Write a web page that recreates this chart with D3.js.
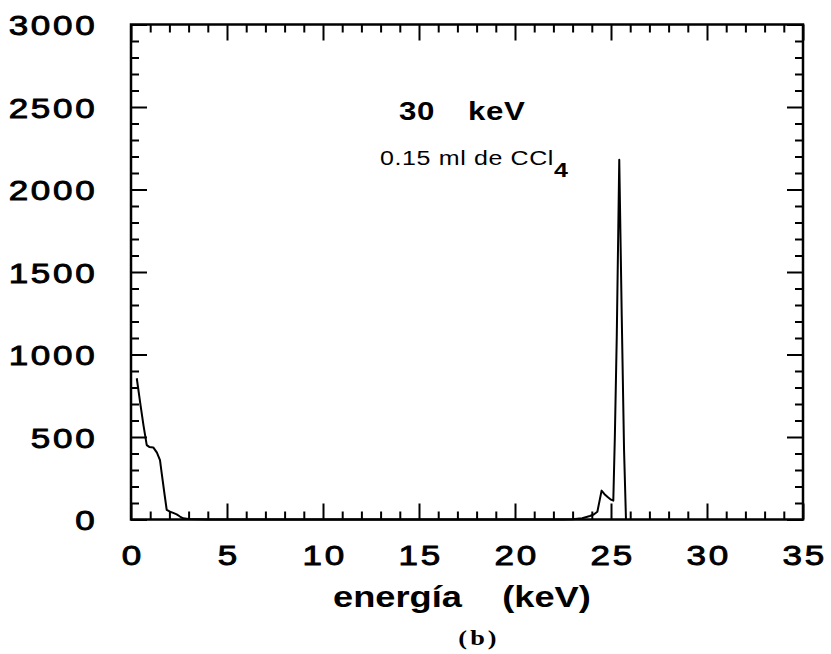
<!DOCTYPE html>
<html>
<head>
<meta charset="utf-8">
<script src="https://cdn.jsdelivr.net/npm/d3@7"></script>
<style>
  html, body { margin: 0; padding: 0; background: #fff; }
  svg { display: block; }
  .tick text { font-family: "Liberation Sans", Arial, sans-serif; font-weight: normal; fill: #000;
               stroke: #000; stroke-width: 0.9px; }
</style>
</head>
<body>
<svg id="chart" width="831" height="654"></svg>
<script>
// Spectrum: energy (keV) and counts
const energy = [0.3, 0.5, 0.65, 0.82, 0.95, 1.16, 1.35, 1.51, 1.6, 1.75, 1.86, 2.03, 2.2, 2.38, 2.55, 2.72,
  3.0, 3.5, 4.0, 5.0, 8.0, 12.0, 16.0, 20.0, 22.5, 23.0, 23.5, 23.9, 24.1, 24.29, 24.51, 24.65, 24.81,
  25.0, 25.12, 25.2, 25.3, 25.43, 25.56, 25.68, 25.78];
const counts = [856, 690, 570, 451, 440, 437, 405, 360, 280, 150, 58, 47, 40, 31, 18, 7,
  3, 2, 0, 0, 0, 0, 0, 0, 0, 2, 8, 21, 30, 47, 175, 155, 138,
  120, 114, 500, 1108, 2180, 1229, 420, 0];

const xMajor = [0, 5, 10, 15, 20, 25, 30, 35];
const yMajor = [0, 500, 1000, 1500, 2000, 2500, 3000];
const titleParts = ["30", "keV"];
const subtitle = "0.15 ml de CCl";
const subtitleSub = "4";
const xTitle = "energía    (keV)";
const caption = "(b)";

// the lettering uses a wide face: glyphs are stretched horizontally
const SX = 1.25;

const svg = d3.select("#chart");
const L = 131, R = 803, T = 24.5, B = 519.5;

const x = d3.scaleLinear().domain([0, 35]).range([L, R]);
const y = d3.scaleLinear().domain([0, 3000]).range([B, T]);

const xMinor = d3.range(0, 36, 1).filter(v => v % 5 !== 0);
const yMinor = d3.range(0, 3001, 100).filter(v => v % 500 !== 0);

function styleAxis(g, labels) {
  g.select(".domain").remove();
  g.selectAll(".tick line").attr("stroke", "#000").attr("stroke-width", 2);
  if (!labels) g.selectAll(".tick text").remove();
}

// bottom axis: labelled majors + minors, ticks pointing inward
svg.append("g").attr("transform", `translate(0,${B})`)
  .call(d3.axisBottom(x).tickValues(xMinor).tickSize(-8))
  .call(g => styleAxis(g, false));
svg.append("g").attr("transform", `translate(0,${B})`)
  .call(d3.axisBottom(x).tickValues(xMajor).tickSize(-16).tickFormat(d3.format("d")))
  .call(g => styleAxis(g, true))
  .call(g => g.selectAll(".tick text")
    .attr("font-size", 28).attr("letter-spacing", 2.2).attr("dy", "0").attr("y", 46)
    .attr("x", 1).attr("transform", `scale(${SX},1)`));

// top axis
svg.append("g").attr("transform", `translate(0,${T})`)
  .call(d3.axisTop(x).tickValues(xMinor).tickSize(-8))
  .call(g => styleAxis(g, false));
svg.append("g").attr("transform", `translate(0,${T})`)
  .call(d3.axisTop(x).tickValues(xMajor).tickSize(-16))
  .call(g => styleAxis(g, false));

// left axis
svg.append("g").attr("transform", `translate(${L},0)`)
  .call(d3.axisLeft(y).tickValues(yMinor).tickSize(-8))
  .call(g => styleAxis(g, false));
svg.append("g").attr("transform", `translate(${L},0)`)
  .call(d3.axisLeft(y).tickValues(yMajor).tickSize(-16).tickFormat(d3.format("d")))
  .call(g => styleAxis(g, true))
  .call(g => g.selectAll(".tick text")
    .attr("font-size", 28).attr("letter-spacing", 2.2).attr("x", -26.8).attr("dy", "0.36em")
    .attr("transform", `scale(${SX},1)`));

// right axis
svg.append("g").attr("transform", `translate(${R},0)`)
  .call(d3.axisRight(y).tickValues(yMinor).tickSize(-8))
  .call(g => styleAxis(g, false));
svg.append("g").attr("transform", `translate(${R},0)`)
  .call(d3.axisRight(y).tickValues(yMajor).tickSize(-16))
  .call(g => styleAxis(g, false));

// frame
svg.append("rect")
  .attr("x", L).attr("y", T).attr("width", R - L).attr("height", B - T)
  .attr("fill", "none").attr("stroke", "#000").attr("stroke-width", 2.5);

// spectrum line
const line = d3.line().x((d, i) => x(energy[i])).y(d => y(d));
svg.append("path")
  .datum(counts)
  .attr("d", line)
  .attr("fill", "none")
  .attr("stroke", "#000")
  .attr("stroke-width", 2)
  .attr("stroke-linejoin", "round");

// annotations (each placed at its left baseline, then stretched)
function label(px, py) {
  return svg.append("g").attr("transform", `translate(${px},${py}) scale(${SX},1)`)
    .append("text").attr("font-family", "Liberation Sans, Arial, sans-serif").attr("fill", "#000");
}

const t = label(399, 120).attr("font-weight", "bold").attr("font-size", 25).attr("letter-spacing", 0.5);
t.append("tspan").text(titleParts[0]);
t.append("tspan").attr("dx", 19).text(" " + titleParts[1]);

const sub = label(380, 165).attr("font-size", 20).attr("letter-spacing", 0.5);
sub.append("tspan").text(subtitle);
sub.append("tspan").attr("dy", 12).attr("dx", 0).attr("font-weight", "bold").attr("font-size", 20).text(subtitleSub);

label(333, 607).attr("font-weight", "bold").attr("font-size", 29).attr("letter-spacing", 0)
  .style("white-space", "pre")
  .text(xTitle);

svg.append("g").attr("transform", `translate(479,645) scale(${SX},1)`)
  .append("text")
  .attr("text-anchor", "middle")
  .attr("font-family", "Liberation Serif, Times New Roman, serif")
  .attr("font-weight", "bold").attr("font-size", 21).attr("letter-spacing", 2.5)
  .text(caption);
</script>
</body>
</html>
